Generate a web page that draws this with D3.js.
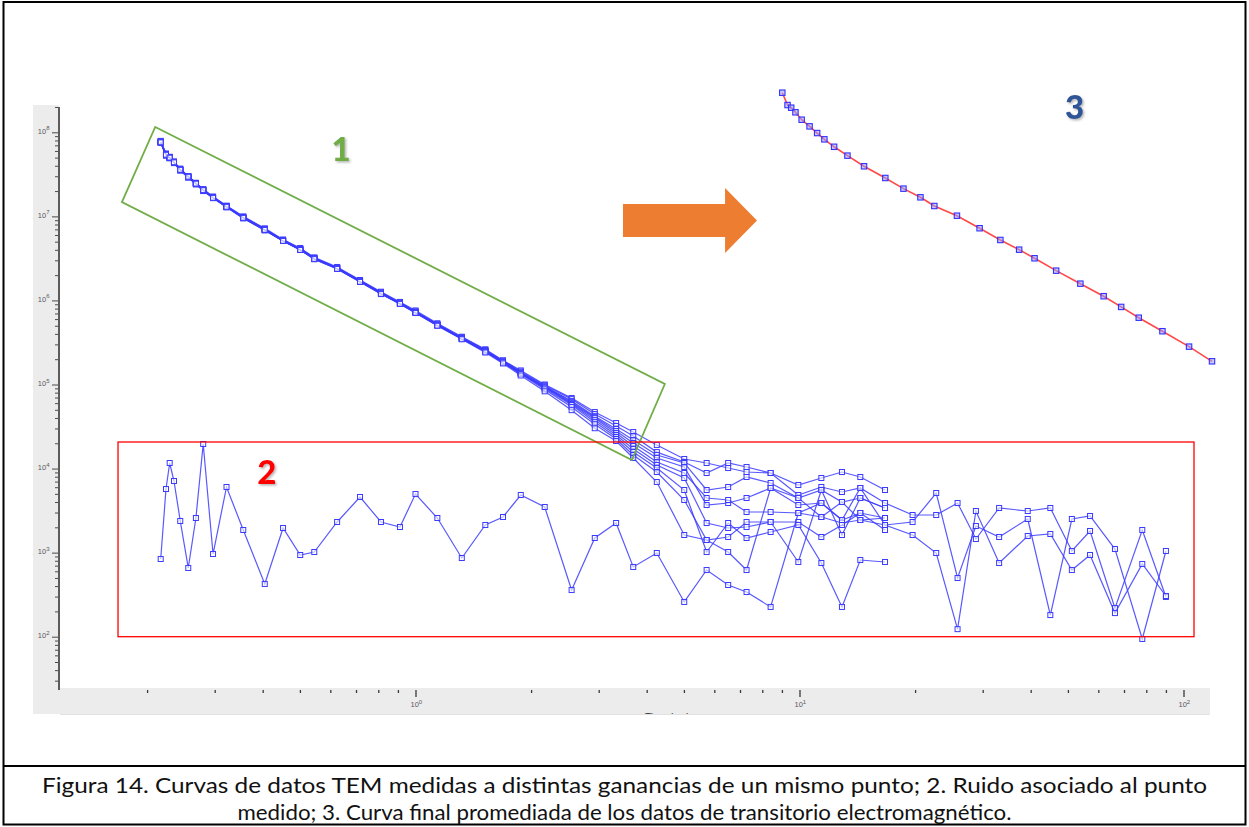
<!DOCTYPE html>
<html>
<head>
<meta charset="utf-8">
<script src="https://cdn.jsdelivr.net/npm/d3@7"></script>
<style>
  html, body { margin: 0; padding: 0; background: #fff; }
  svg { display: block; }
</style>
</head>
<body>
<svg id="fig" width="1249" height="827"></svg>
<script>
// ---- Time gates (ms) shared by every sounding ----
const gateTimes = [0.217,0.224,0.229,0.235,0.244,0.256,0.268,0.280,0.297,0.322,0.356,0.405,0.452,0.501,0.545,0.625,0.717,0.813,0.911,1.00,1.14,1.32,1.52,1.69,1.88,2.17,2.55,2.93,3.33,3.69,4.25,5.01,5.73,6.52,7.28,8.41,9.93,11.4,12.9,14.4,16.7,19.7,22.7,25.8,28.8,33.1,39.3,45.0,51.2,57.1,66.3,78.1,90.0];

// ---- TEM decays measured at different gains (same station) ----
const curveA = [7.9e7,5.6e7,5.1e7,4.5e7,3.7e7,3.0e7,2.5e7,2.1e7,1.72e7,1.34e7,1.0e7,7.2e6,5.3e6,4.2e6,3.25e6,2.5e6,1.75e6,1.27e6,9.6e5,7.6e5,5.35e5,3.7e5,2.62e5,1.93e5,1.47e5,1.0e5,6.9e4,4.7e4,34800,27200,19100,13000,11650,10150,9100,8855,6374,7721,9100,7935,5559];
const curveB = [7.7e7,5.4e7,5.0e7,4.4e7,3.6e7,2.95e7,2.5e7,2.05e7,1.7e7,1.3e7,9.8e6,7.0e6,5.2e6,4.1e6,3.2e6,2.45e6,1.72e6,1.24e6,9.4e5,7.4e5,5.2e5,3.65e5,2.58e5,1.93e5,1.43e5,9.8e4,6.7e4,4.45e4,32100,24400,15700,11970,8855,11650,10430,8855,4848,6035,5263,5872,3893,2803,2803,3893,1453,3395,3127,3395,1046,1808,219,1859,297];
const curveC = [7.5e7,5.3e7,4.9e7,4.3e7,3.5e7,2.9e7,2.4e7,2.0e7,1.65e7,1.28e7,9.5e6,6.8e6,5.1e6,4.0e6,3.1e6,2.4e6,1.68e6,1.21e6,9.2e5,7.2e5,5.1e5,3.55e5,2.5e5,1.88e5,1.39e5,9.5e4,6.35e4,4.2e4,29550,21860,14500,11650,5559,6035,7935,6733,4465,5559,4001,4465,3395];
const curveD = [7.7e7,5.5e7,5.05e7,4.45e7,3.6e7,3.0e7,2.47e7,2.08e7,1.68e7,1.32e7,9.7e6,7.05e6,5.2e6,4.05e6,3.2e6,2.42e6,1.7e6,1.23e6,9.3e5,7.35e5,5.2e5,3.6e5,2.54e5,1.88e5,1.39e5,9.5e4,6.17e4,4.09e4,27970,20140,13360,10430,3686,3893,4465,5872,3686,3893,2444,2961,2582];
const curveE = [7.6e7,5.35e7,5.0e7,4.4e7,3.55e7,2.95e7,2.45e7,2.05e7,1.66e7,1.3e7,9.6e6,6.9e6,5.1e6,4.0e6,3.15e6,2.4e6,1.69e6,1.21e6,9.2e5,7.2e5,5.1e5,3.5e5,2.47e5,1.83e5,1.35e5,9.25e4,6.0e4,3.98e4,26490,18550,11970,8855,4465,4227,3043,3043,2961,2654,2251,2444,2132,2314,5121,499,2074,1535,2512,181,2512,2727,1104,94,1046];
const curveF = [7.8e7,5.5e7,5.1e7,4.45e7,3.6e7,3.0e7,2.5e7,2.1e7,1.7e7,1.33e7,9.8e6,7.1e6,5.25e6,4.1e6,3.2e6,2.45e6,1.72e6,1.24e6,9.4e5,7.3e5,5.15e5,3.55e5,2.5e5,1.83e5,1.35e5,9.25e4,5.85e4,3.77e4,25070,17090,11030,7721,2251,1963,2018,2314,2314,1535,2132,2961,1859];
const curveG = [7.5e7,5.3e7,4.95e7,4.35e7,3.55e7,2.9e7,2.42e7,2.03e7,1.65e7,1.29e7,9.5e6,6.9e6,5.1e6,4.0e6,3.12e6,2.38e6,1.67e6,1.2e6,9.1e5,7.15e5,5.05e5,3.5e5,2.47e5,1.83e5,1.35e5,9.0e4,5.7e4,3.57e4,23740,15740,10150,5559,1017,2251,1493,1760,2132,753,226,817,774];
const curveH = [7.7e7,5.45e7,5.0e7,4.4e7,3.6e7,2.97e7,2.46e7,2.06e7,1.67e7,1.3e7,9.65e6,6.95e6,5.15e6,4.02e6,3.15e6,2.4e6,1.68e6,1.21e6,9.2e5,7.2e5,5.05e5,3.5e5,2.45e5,1.83e5,1.33e5,8.75e4,5.4e4,3.37e4,22470,14500,9100,4227,1413,1535,2314,2314,774,5559,1621,4465,3395];
const curveI = [7.6e7,5.4e7,5.0e7,4.4e7,3.58e7,2.96e7,2.45e7,2.05e7,1.66e7,1.3e7,9.6e6,6.9e6,5.1e6,3.98e6,3.1e6,2.37e6,1.66e6,1.19e6,9.1e5,7.1e5,5.0e5,3.45e5,2.4e5,1.78e5,1.28e5,8.3e4,4.95e4,3.02e4,21270,13360,6920,1621,1413,1017,621,5872,4465,2654,4001,2444,2582];

// ---- Noise recorded at the station ----
const curveRuido = [840,5710,11650,7110,2380,657,2582,19600,963,6035,1859,424,1963,937,1017,2314,4590,2314,2018,4980,2582,863,2132,2654,4848,3490,359,1493,2251,675,990,259,621,412,340,226,2961,3893,2444,5872,2132,1621,990,123,3127,753,1577,1666,621,937,191,733,305];

// ---- Final stacked (averaged) transient ----
const avgValues = [7.66e7,5.42e7,5.03e7,4.42e7,3.59e7,2.98e7,2.47e7,2.07e7,1.68e7,1.31e7,9.72e6,7.00e6,5.19e6,4.07e6,3.19e6,2.43e6,1.71e6,1.23e6,9.37e5,7.36e5,5.20e5,3.61e5,2.54e5,1.88e5,1.39e5,9.51e4,6.17e4,4.09e4];

// ---- Axis ticks ----
const yMajorExps = [2,3,4,5,6,7,8];
const xMajorExps = [0,1,2];

// ---- Caption ----
const captionLines = [
  "Figura 14. Curvas de datos TEM medidas a distintas ganancias de un mismo punto; 2. Ruido asociado al punto",
  "medido; 3. Curva final promediada de los datos de transitorio electromagnético."
];

const measured = [curveA, curveB, curveC, curveD, curveE, curveF, curveG, curveH, curveI, curveRuido];

const svg = d3.select("#fig");
const W = 1249, H = 827;

svg.append("rect").attr("width", W).attr("height", H).attr("fill", "#fff");

const defs = svg.append("defs");
const sh = defs.append("filter").attr("id", "shadow").attr("x", "-30%").attr("y", "-30%").attr("width", "160%").attr("height", "160%");
sh.append("feDropShadow").attr("dx", 1.5).attr("dy", 1.5).attr("stdDeviation", 0.9)
  .attr("flood-color", "#777").attr("flood-opacity", 0.55);
defs.append("clipPath").attr("id", "bandClip")
  .append("rect").attr("x", 33).attr("y", 688).attr("width", 1177).attr("height", 26);

// ---- plot panel ----
const panel = { left: 33, top: 105, axisX: 59, axisY: 688, bottom: 714, right: 1210 };
svg.append("rect").attr("x", panel.left).attr("y", panel.top)
  .attr("width", panel.axisX - panel.left).attr("height", panel.bottom - panel.top).attr("fill", "#ececec");
svg.append("rect").attr("x", panel.left).attr("y", panel.axisY)
  .attr("width", panel.right - panel.left).attr("height", panel.bottom - panel.axisY).attr("fill", "#ececec");
svg.append("line").attr("x1", 60).attr("x2", panel.right).attr("y1", panel.bottom + 0.5).attr("y2", panel.bottom + 0.5)
  .attr("stroke", "#e2e2e2").attr("stroke-width", 1);

// ---- scales ----
const x = d3.scaleLog().domain([0.1, 100]).range([31.5, 1183.5]);
const y = d3.scaleLog().domain([1e2, 1e8]).range([636.7, 132.3]);

// y axis
const yMinor = d3.scaleLog().domain([25, 2.05e8]).ticks().filter(v => Math.abs(Math.log10(v) % 1) > 1e-6);
const yMajor = yMajorExps.map(e => Math.pow(10, e));
const gy = svg.append("g").attr("transform", `translate(${panel.axisX},0)`);
gy.append("g").call(d3.axisLeft(y).tickValues(yMinor).tickSize(4).tickSizeOuter(0).tickFormat(""));
gy.append("g").call(d3.axisLeft(y).tickValues(yMajor).tickSize(7).tickSizeOuter(0).tickFormat(""));
gy.selectAll(".domain").remove();
gy.selectAll(".tick line").attr("stroke", "#4a4a4a").attr("stroke-width", 1);
svg.append("line").attr("x1", panel.axisX).attr("x2", panel.axisX).attr("y1", 107).attr("y2", 690)
  .attr("stroke", "#5c5c5c").attr("stroke-width", 2);
const yl = svg.append("g").attr("font-family", "Liberation Sans, Arial, sans-serif").attr("fill", "#5a5a5a");
yMajorExps.forEach(e => {
  const t = yl.append("text").attr("x", 49.5).attr("y", y(Math.pow(10, e)) + 1.5)
    .attr("text-anchor", "end").attr("font-size", 7.5);
  t.append("tspan").text("10");
  t.append("tspan").attr("dy", -3.5).attr("font-size", 6).text(e);
});

// x axis
const xMinor = d3.scaleLog().domain([0.15, 110]).ticks().filter(v => Math.abs(Math.log10(v) % 1) > 1e-6 && Math.abs(Math.log10(v) % 1 + 1) > 1e-6 && Math.abs(Math.log10(v) % 1 - 1) > 1e-6);
const xMajor = xMajorExps.map(e => Math.pow(10, e));
const gx = svg.append("g").attr("transform", `translate(0,${panel.axisY + 2})`);
gx.append("g").call(d3.axisBottom(x).tickValues(xMinor).tickSize(3).tickSizeOuter(0).tickFormat(""));
gx.append("g").call(d3.axisBottom(x).tickValues(xMajor).tickSize(7).tickSizeOuter(0).tickFormat(""));
gx.selectAll(".domain").remove();
gx.selectAll(".tick line").attr("stroke", "#3a3a3a").attr("stroke-width", 1.3);
const xl = svg.append("g").attr("font-family", "Liberation Sans, Arial, sans-serif").attr("fill", "#5a5a5a");
xMajorExps.forEach(e => {
  const t = xl.append("text").attr("x", x(Math.pow(10, e)) - 5).attr("y", 707).attr("font-size", 7.5);
  t.append("tspan").text("10");
  t.append("tspan").attr("dy", -3.5).attr("font-size", 6).text(e);
});
svg.append("text").attr("x", 645).attr("y", 721).attr("font-size", 10)
  .attr("font-family", "Liberation Sans, Arial, sans-serif").attr("fill", "#333")
  .attr("clip-path", "url(#bandClip)").text("Time (ms)");

// ---- measured curves ----
const line = d3.line().x(d => x(d[0])).y(d => y(d[1]));
const blue = "#3b3bff";
measured.forEach(vals => {
  const pts = vals.map((v, i) => [gateTimes[i], v]);
  const g = svg.append("g");
  g.append("path").attr("d", line(pts)).attr("fill", "none")
    .attr("stroke", blue).attr("stroke-width", 1.2).attr("stroke-opacity", 0.85);
  g.selectAll("rect").data(pts).join("rect")
    .attr("x", d => x(d[0]) - 2.5).attr("y", d => y(d[1]) - 2.5)
    .attr("width", 5).attr("height", 5)
    .attr("fill", "#fff").attr("fill-opacity", 0.6)
    .attr("stroke", blue).attr("stroke-width", 1);
});

// ---- averaged curve (inset) ----
const nAvg = avgValues.length;
const xi = d3.scaleLog().domain([gateTimes[0], gateTimes[nAvg - 1]]).range([782.3, 1212]);
const yi = d3.scaleLog().domain([avgValues[0], avgValues[nAvg - 1]]).range([92.7, 361.3]);
const avgPts = avgValues.map((v, i) => [gateTimes[i], v]);
const ginset = svg.append("g");
ginset.append("path")
  .attr("d", d3.line().x(d => xi(d[0])).y(d => yi(d[1]))(avgPts))
  .attr("fill", "none").attr("stroke", "#ff4848").attr("stroke-width", 1.6);
ginset.selectAll("rect").data(avgPts).join("rect")
  .attr("x", d => xi(d[0]) - 2.7).attr("y", d => yi(d[1]) - 2.7)
  .attr("width", 5.4).attr("height", 5.4)
  .attr("fill", "#9d9dff").attr("fill-opacity", 0.55)
  .attr("stroke", "#3030ff").attr("stroke-width", 1.1);

// ---- annotations (in data coordinates) ----
const boxDecay = [[0.210, 1.156e8], [4.46, 1.014e5], [3.66, 1.265e4], [0.172, 1.48e7]];
svg.append("polygon")
  .attr("points", boxDecay.map(d => [x(d[0]), y(d[1])].join(",")).join(" "))
  .attr("fill", "none").attr("stroke", "#70ad47").attr("stroke-width", 1.8);

const boxNoise = { t0: 0.168, t1: 106.5, v0: 100, v1: 2.07e4 };
svg.append("rect")
  .attr("x", x(boxNoise.t0)).attr("y", y(boxNoise.v1))
  .attr("width", x(boxNoise.t1) - x(boxNoise.t0)).attr("height", y(boxNoise.v0) - y(boxNoise.v1))
  .attr("fill", "none").attr("stroke", "#ff0000").attr("stroke-width", 1.3);

// arrow
const arrow = { tail: 3.47, headBase: 6.40, tip: 7.75, level: 8.93e6, body: 16.5, head: 32.5 };
const ay = y(arrow.level);
svg.append("polygon")
  .attr("points", [
    [x(arrow.tail), ay - arrow.body], [x(arrow.headBase), ay - arrow.body], [x(arrow.headBase), ay - arrow.head],
    [x(arrow.tip), ay], [x(arrow.headBase), ay + arrow.head], [x(arrow.headBase), ay + arrow.body],
    [x(arrow.tail), ay + arrow.body]
  ].map(p => p.join(",")).join(" "))
  .attr("fill", "#ed7d31");

const tags = [
  { text: "1", t: 0.64, v: 4.55e7, color: "#70ad47", px: "inner" },
  { text: "2", t: 0.41, v: 6.55e3, color: "#ff0000", px: "inner" },
  { text: "3", t: 52.0, v: 1.44e8, color: "#2f5597", px: "inner" }
];
svg.selectAll("text.tag").data(tags).join("text").attr("class", "tag")
  .attr("x", d => x(d.t)).attr("y", d => y(d.v))
  .attr("text-anchor", "middle").attr("font-family", "Lato, Open Sans, sans-serif")
  .attr("font-weight", 900).attr("font-size", 33).attr("fill", d => d.color)
  .attr("filter", "url(#shadow)").text(d => d.text);

// ---- frame and caption ----
svg.append("rect").attr("x", 3.5).attr("y", 2).attr("width", 1242).attr("height", 822.5)
  .attr("fill", "none").attr("stroke", "#000").attr("stroke-width", 2);
svg.append("line").attr("x1", 3.5).attr("x2", 1245.5).attr("y1", 766).attr("y2", 766)
  .attr("stroke", "#000").attr("stroke-width", 2);

const capW = [1165, 774];
const capY = [792.7, 820];
captionLines.forEach((s, i) => {
  svg.append("text").attr("x", 624.5).attr("y", capY[i]).attr("text-anchor", "middle")
    .attr("font-family", "Lato, Open Sans, sans-serif").attr("font-size", 21.5).attr("fill", "#111")
    .attr("textLength", capW[i]).attr("lengthAdjust", "spacingAndGlyphs").text(s);
});
</script>
</body>
</html>
